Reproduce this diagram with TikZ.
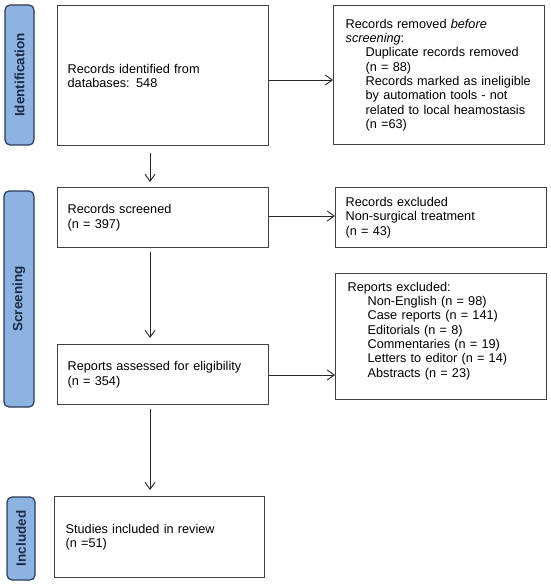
\documentclass[tikz,border=0pt]{standalone}
\usepackage{fontspec}
\setmainfont{Liberation Sans}
\usetikzlibrary{arrows.meta,calc}
\definecolor{barfill}{HTML}{8DB3E2}
\definecolor{bardraw}{HTML}{2B3A55}
\definecolor{bartext}{HTML}{1F2B45}
\definecolor{boxdraw}{HTML}{404040}
\begin{document}
\begin{tikzpicture}[x=1pt,y=-1pt,
  every node/.style={font=\fontsize{12.7}{14.3}\selectfont},
  flowbox/.style={draw=boxdraw,line width=1.3pt,anchor=north west,align=left,inner ysep=0pt},
  phasebar/.style={draw=bardraw,line width=1.2pt,fill=barfill,rounded corners=5pt,rotate=90,
    text=bartext,font=\fontsize{13.5}{15}\selectfont\bfseries,inner sep=0pt},
  arr/.style={draw=black!85,line width=0.9pt,-{Straight Barb[length=7pt,width=10pt]}}]
\useasboundingbox (0,0) rectangle (550,588);
% phase bars
\node[phasebar,minimum width=140pt,minimum height=29pt] (pid) at (19.5,75) {Identification};
\node[phasebar,minimum width=216pt,minimum height=30pt] (psc) at (19,299) {Screening};
\node[phasebar,minimum width=83pt,minimum height=28pt] (pin) at (21,538.5) {Included};
% boxes
\node[flowbox,minimum width=211pt,minimum height=140pt,inner xsep=10pt,text width=191pt] (id) at (57,5)
  {Records identified from\\databases: 548};
\node[flowbox,minimum width=211pt,minimum height=139pt,inner xsep=12pt,text width=187pt] (rem) at (333,5)
  {Records removed \textit{before}\\\textit{screening}:\\
   \hspace*{20pt}Duplicate records removed\\
   \hspace*{20pt}(n = 88)\\
   \hspace*{20pt}Records marked as ineligible\\
   \hspace*{20pt}by automation tools - not\\
   \hspace*{20pt}related to local heamostasis\\
   \hspace*{20pt}(n =63)};
\node[flowbox,minimum width=211pt,minimum height=60pt,inner xsep=10pt,text width=191pt] (scr) at (57,187)
  {Records screened\\(n = 397)};
\node[flowbox,minimum width=211pt,minimum height=60pt,inner xsep=10pt,text width=191pt] (exc) at (335,187)
  {Records excluded\\Non-surgical treatment\\(n = 43)};
\node[flowbox,minimum width=211pt,minimum height=126pt,inner xsep=12pt,text width=187pt] (rep) at (335,273)
  {Reports excluded:\\
   \hspace*{20pt}Non-English (n = 98)\\
   \hspace*{20pt}Case reports (n = 141)\\
   \hspace*{20pt}Editorials (n = 8)\\
   \hspace*{20pt}Commentaries (n = 19)\\
   \hspace*{20pt}Letters to editor (n = 14)\\
   \hspace*{20pt}Abstracts (n = 23)\\ \mbox{}};
\node[flowbox,minimum width=211pt,minimum height=60pt,inner xsep=10pt,text width=191pt] (ass) at (57,344)
  {Reports assessed for eligibility\\(n = 354)};
\node[flowbox,minimum width=210pt,minimum height=81pt,inner xsep=11pt,text width=188pt] (inc) at (54,496)
  {Studies included in review\\(n =51)};
% connectors
\draw[arr] (id.east |- 0,80) -- (rem.west |- 0,80);
\draw[arr] (scr.east |- 0,216) -- (exc.west |- 0,216);
\draw[arr] (ass.east |- 0,375) -- (rep.west |- 0,375);
\draw[arr,shorten <=7pt,shorten >=5pt] (id.south -| 150,0) -- (scr.north -| 150,0);
\draw[arr,shorten <=4pt,shorten >=6pt] (scr.south -| 150,0) -- (ass.north -| 150,0);
\draw[arr,shorten <=4pt,shorten >=6pt] (ass.south -| 150,0) -- (inc.north -| 150,0);
\end{tikzpicture}
\end{document}
